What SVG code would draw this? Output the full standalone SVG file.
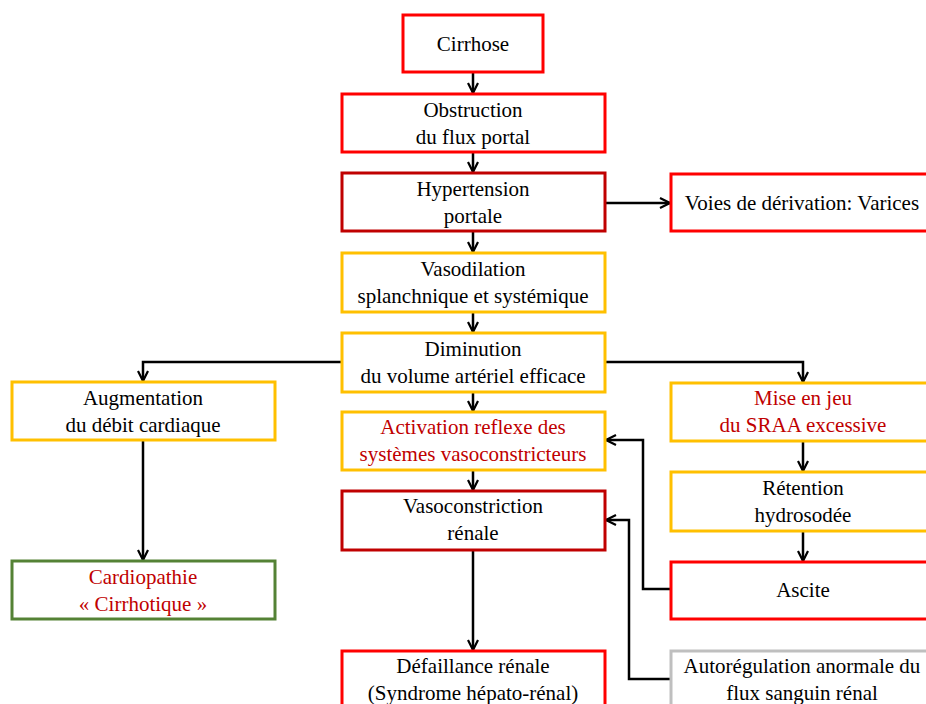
<svg xmlns="http://www.w3.org/2000/svg" width="926" height="704" viewBox="0 0 926 704">
<defs>
<marker id="a" viewBox="0 0 12 12" refX="11" refY="6" markerWidth="12" markerHeight="12" markerUnits="userSpaceOnUse" orient="auto">
<path d="M1,1 L11,6 L1,11" fill="none" stroke="#000" stroke-width="2.2"/>
</marker>
</defs>
<style>
rect{fill:#fff;stroke-width:3}
.r{stroke:#FF0000}
.d{stroke:#C00000}
.y{stroke:#FFC000}
.g{stroke:#548235}
.gr{stroke:#BFBFBF}
text{font-family:"Liberation Serif","Times New Roman",serif;font-size:21px;fill:#000;text-anchor:middle}
.t{fill:#C00000}
#conn path{fill:none;stroke:#000;stroke-width:2.5;marker-end:url(#a)}
</style>
<rect width="926" height="704" style="fill:#fff;stroke:none"/>
<g id="conn">
<path d="M473,72 V93"/>
<path d="M473,152 V172"/>
<path d="M605,203 H670"/>
<path d="M473,231 V252"/>
<path d="M473,312 V332"/>
<path d="M342,362 H143 V381"/>
<path d="M605,362 H803 V382"/>
<path d="M473,392 V411"/>
<path d="M803,441 V471"/>
<path d="M803,531 V561"/>
<path d="M473,470 V490"/>
<path d="M473,550 V650"/>
<path d="M143,440 V560"/>
<path d="M671,589 H643 V440 H606"/>
<path d="M671,679 H629 V520 H606"/>
</g>
<g id="cirrhose"><rect class="r" x="403" y="15" width="140" height="57"/><text x="473" y="51">Cirrhose</text></g>
<g id="obstruction"><rect class="r" x="342" y="94" width="263" height="58"/><text x="473" y="117">Obstruction</text><text x="473" y="144">du flux portal</text></g>
<g id="hypertension"><rect class="d" x="342" y="173" width="263" height="58"/><text x="473" y="196">Hypertension</text><text x="473" y="223">portale</text></g>
<g id="voies"><rect class="r" x="671" y="174" width="264" height="57"/><text x="802" y="210">Voies de dérivation: Varices</text></g>
<g id="vasodilatation"><rect class="y" x="342" y="253" width="263" height="59"/><text x="473" y="276">Vasodilation</text><text x="473" y="303">splanchnique et systémique</text></g>
<g id="diminution"><rect class="y" x="342" y="333" width="263" height="59"/><text x="473" y="356">Diminution</text><text x="473" y="383">du volume artériel efficace</text></g>
<g id="augmentation"><rect class="y" x="12" y="382" width="263" height="58"/><text x="143" y="405">Augmentation</text><text x="143" y="432">du débit cardiaque</text></g>
<g id="mise"><rect class="y" x="671" y="383" width="264" height="58"/><text class="t" x="803" y="405">Mise en jeu</text><text class="t" x="803" y="432">du SRAA excessive</text></g>
<g id="activation"><rect class="y" x="342" y="412" width="263" height="58"/><text class="t" x="473" y="434">Activation reflexe des</text><text class="t" x="473" y="461">systèmes vasoconstricteurs</text></g>
<g id="retention"><rect class="y" x="671" y="472" width="264" height="59"/><text x="803" y="495">Rétention</text><text x="803" y="522">hydrosodée</text></g>
<g id="vasoconstriction"><rect class="d" x="342" y="491" width="263" height="59"/><text x="473" y="513">Vasoconstriction</text><text x="473" y="540">rénale</text></g>
<g id="ascite"><rect class="r" x="671" y="562" width="264" height="57"/><text x="803" y="597">Ascite</text></g>
<g id="cardiopathie"><rect class="g" x="12" y="561" width="263" height="58"/><text class="t" x="143" y="584">Cardiopathie</text><text class="t" x="143" y="611">« Cirrhotique »</text></g>
<g id="defaillance"><rect class="r" x="342" y="651" width="263" height="70"/><text x="473" y="673">Défaillance rénale</text><text x="473" y="700">(Syndrome hépato-rénal)</text></g>
<g id="autoregulation"><rect class="gr" x="671" y="651" width="264" height="70"/><text x="802" y="673">Autorégulation anormale du</text><text x="802" y="700">flux sanguin rénal</text></g>
</svg>
